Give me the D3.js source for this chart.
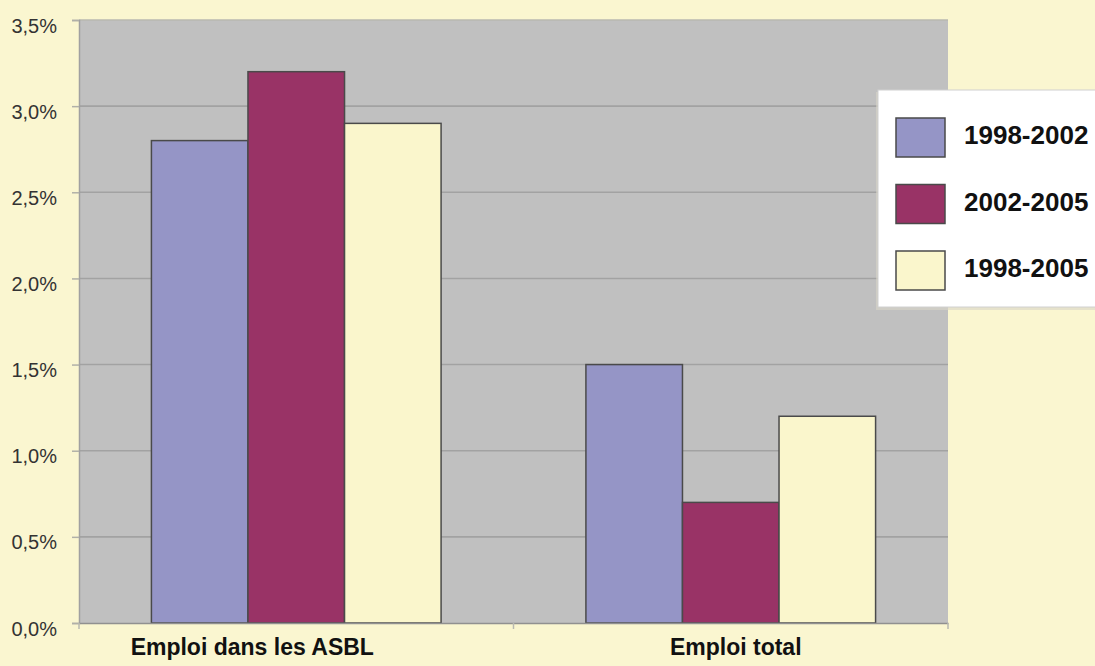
<!DOCTYPE html>
<html>
<head>
<meta charset="utf-8">
<script src="https://cdn.jsdelivr.net/npm/d3@7/dist/d3.min.js"></script>
<style>
  html, body { margin: 0; padding: 0; background: #faf6d0; }
  svg { display: block; font-family: "Liberation Sans", Arial, Helvetica, sans-serif; }
</style>
</head>
<body>
<svg id="chart" width="1095" height="666"></svg>
<script>
// Employment growth rates (% per year)
const categories = ["Emploi dans les ASBL", "Emploi total"];
const seriesNames = ["1998-2002", "2002-2005", "1998-2005"];
const seriesColors = ["#9595c6", "#993366", "#faf6cc"];
const values = {
  "1998-2002": [2.8, 1.5],
  "2002-2005": [3.2, 0.7],
  "1998-2005": [2.9, 1.2]
};
const yTicks = [0, 0.5, 1.0, 1.5, 2.0, 2.5, 3.0, 3.5];

const svg = d3.select("#chart");
const plot = { left: 79, right: 948, top: 20, bottom: 623 };

const x0 = d3.scaleBand().domain(categories).range([plot.left, plot.right]).paddingInner(0).paddingOuter(0);
const x1 = d3.scaleBand().domain(seriesNames).range([0, x0.bandwidth()]).paddingOuter(0.75).paddingInner(0);
const y = d3.scaleLinear().domain([0, 3.5]).range([plot.bottom, plot.top]);
const fmt = v => d3.format(".1f")(v).replace(".", ",") + "%";

// plot background
svg.append("rect")
  .attr("x", plot.left).attr("y", plot.top)
  .attr("width", plot.right - plot.left).attr("height", plot.bottom - plot.top)
  .attr("fill", "#c0c0c0");

// horizontal gridlines
svg.append("g").selectAll("line")
  .data(yTicks.filter(t => t > 0))
  .join("line")
  .attr("x1", plot.left).attr("x2", plot.right)
  .attr("y1", d => y(d)).attr("y2", d => y(d))
  .attr("stroke", d => d === 3.5 ? "#b8b8b0" : "#a2a2a2")
  .attr("stroke-width", 1.6);

// y axis
const yAxis = svg.append("g")
  .attr("transform", `translate(${plot.left},0)`)
  .call(d3.axisLeft(y).tickValues(yTicks).tickFormat(fmt).tickSize(7).tickPadding(15));
yAxis.select(".domain").attr("stroke", "#a0a0a0").attr("stroke-width", 1.5);
yAxis.selectAll(".tick line").attr("stroke", "#b0b0a8").attr("stroke-width", 1.5);
yAxis.selectAll(".tick text")
  .attr("fill", "#333").attr("font-size", 20).attr("dy", "0.6em");

// bars
const groups = svg.append("g").selectAll("g")
  .data(categories)
  .join("g")
  .attr("transform", d => `translate(${x0(d)},0)`);

groups.selectAll("rect")
  .data((c, i) => seriesNames.map((s, k) => ({ s, k, v: values[s][i] })))
  .join("rect")
  .attr("x", d => x1(d.s))
  .attr("y", d => y(d.v))
  .attr("width", x1.bandwidth())
  .attr("height", d => y(0) - y(d.v))
  .attr("fill", d => seriesColors[d.k])
  .attr("stroke", "#4a4a4a")
  .attr("stroke-width", 1.5);

// x axis
const xAxis = svg.append("g")
  .attr("transform", `translate(0,${plot.bottom})`)
  .call(d3.axisBottom(x0).tickSize(0).tickPadding(30));
xAxis.select(".domain").attr("stroke", "#909090").attr("stroke-width", 1.5);
xAxis.selectAll(".tick text")
  .attr("fill", "#111").attr("font-size", 23).attr("font-weight", "bold")
  .attr("dy", "0.1em")
  .attr("dx", (d, i) => i === 0 ? -44 : 5);
// category separator ticks
xAxis.selectAll(".sep")
  .data([x0.range()[0], x0(categories[1]), x0.range()[1]])
  .join("line")
  .attr("class", "sep")
  .attr("x1", d => d).attr("x2", d => d)
  .attr("y1", 0).attr("y2", 6)
  .attr("stroke", "#b8b8b0").attr("stroke-width", 1.5);

// legend
const lg = svg.append("g").attr("transform", "translate(878,90)");
lg.append("rect")
  .attr("x", -2).attr("y", 2).attr("width", 240).attr("height", 218)
  .attr("fill", "#d8d6c8").attr("opacity", 0.6);
lg.append("rect")
  .attr("x", 0).attr("y", 0).attr("width", 240).attr("height", 217)
  .attr("fill", "#ffffff").attr("stroke", "#d0d0d0").attr("stroke-width", 1);
const items = lg.selectAll("g.item")
  .data(seriesNames)
  .join("g")
  .attr("class", "item")
  .attr("transform", (d, i) => `translate(18,${28 + i * 66.5})`);
items.append("rect")
  .attr("width", 49).attr("height", 39)
  .attr("fill", (d, i) => seriesColors[i])
  .attr("stroke", "#4a4a4a").attr("stroke-width", 1.5);
items.append("text")
  .attr("x", 68).attr("y", 26)
  .attr("font-size", 26).attr("font-weight", "bold").attr("fill", "#111")
  .text(d => d);
</script>
</body>
</html>
